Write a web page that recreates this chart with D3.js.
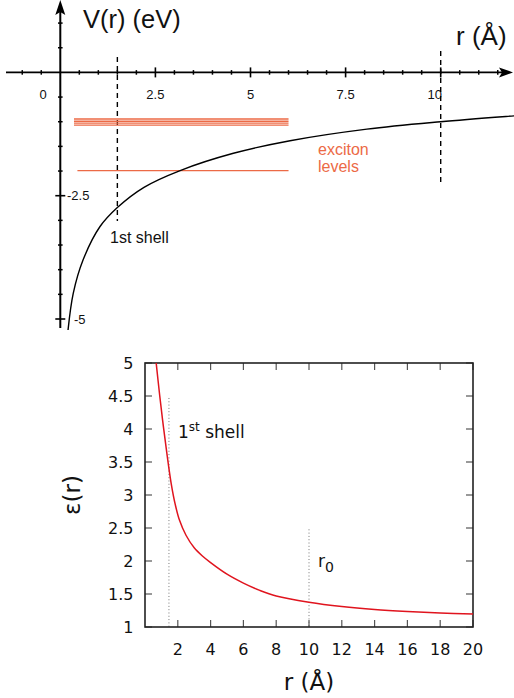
<!DOCTYPE html>
<html><head><meta charset="utf-8">
<script src="https://cdn.jsdelivr.net/npm/d3@7"></script>
<style>body{margin:0;background:#fff}svg{display:block}</style>
</head><body>
<svg id="c" width="514" height="698"></svg>
<script>
// ---------- Top chart data (V(r) in eV vs r in Å) ----------
const potR = [0.2, 0.34, 0.6, 1.04, 1.5, 2.2, 3.15, 4.55, 6.04, 8.06, 10, 11.94, 12.2];
const potV = [-5.25, -4.48, -3.8, -3.13, -2.74, -2.33, -1.99, -1.64, -1.385, -1.15, -1.0, -0.88, -0.865];
const levelV = [-0.945, -0.99, -1.03, -1.07, -1.99];
const levelStart = [0.36, 0.36, 0.36, 0.36, 0.45];
const levelEnd = [6.0, 6.0, 6.0, 6.0, 6.0];
const topMajorX = [2.5, 5, 7.5, 10];
const topMajorXLabels = ["2.5", "5", "7.5", "10"];
const topMajorY = [-2.5, -5];
const topMajorYLabels = ["-2.5", "-5"];
const topShells = [1.5, 10];

// ---------- Bottom chart data (ε(r) vs r in Å) ----------
const epsR = [0.66, 0.9, 1.12, 1.35, 1.6, 1.85, 2.1, 2.5, 3.0, 3.5, 4.0, 5.0, 6.0, 7.0, 8.0, 10, 12, 14, 16, 18, 20];
const epsV = [5.05, 4.5, 4.04, 3.6, 3.17, 2.85, 2.62, 2.39, 2.2, 2.075, 1.975, 1.8, 1.665, 1.555, 1.47, 1.375, 1.31, 1.265, 1.235, 1.213, 1.197];
const botXTicks = [2, 4, 6, 8, 10, 12, 14, 16, 18, 20];
const botYTicks = [1, 1.5, 2, 2.5, 3, 3.5, 4, 4.5, 5];
const botYLabels = ["1", "1.5", "2", "2.5", "3", "3.5", "4", "4.5", "5"];
const botMarks = [{r: 1.46, top: 4.47}, {r: 10, top: 2.48}];

const svg = d3.select("#c");
const orange = "#ec6a46";

// ================= TOP CHART =================
const xT = d3.scaleLinear().domain([0, 10]).range([60.3, 440.7]);
const yT = d3.scaleLinear().domain([0, -5]).range([72.4, 319]);
const gT = svg.append("g");

const defs = svg.append("defs");
defs.append("clipPath").attr("id", "clipT")
  .append("rect").attr("x", 0).attr("y", 0).attr("width", 514).attr("height", 330);

const x0 = xT(0), y0 = yT(0);
gT.append("line").attr("x1", 6).attr("x2", 504).attr("y1", y0).attr("y2", y0)
  .attr("stroke", "#000").attr("stroke-width", 1.6);
gT.append("path").attr("d", `M513,${y0} L499,${y0-5} L502,${y0} L499,${y0+5} Z`).attr("fill", "#000");
gT.append("line").attr("x1", x0).attr("x2", x0).attr("y1", 328).attr("y2", 8)
  .attr("stroke", "#000").attr("stroke-width", 2);
gT.append("path").attr("d", `M${x0},0 L${x0-5},15 L${x0},12 L${x0+5},15 Z`).attr("fill", "#000");

const minorX = d3.range(-1, 11.51, 0.5).filter(v => v !== 0 && topMajorX.indexOf(v) < 0);
gT.selectAll(".mx").data(minorX).join("line")
  .attr("x1", d => xT(d)).attr("x2", d => xT(d)).attr("y1", y0 - 2.3).attr("y2", y0 + 2.3)
  .attr("stroke", "#000").attr("stroke-width", 1.5);
gT.selectAll(".Mx").data(topMajorX).join("line")
  .attr("x1", d => xT(d)).attr("x2", d => xT(d)).attr("y1", y0 - 5).attr("y2", y0 + 5)
  .attr("stroke", "#000").attr("stroke-width", 1.6);
const minorY = d3.range(1, -5.01, -0.5).filter(v => v !== 0 && topMajorY.indexOf(v) < 0);
gT.selectAll(".my").data(minorY).join("line")
  .attr("x1", x0 - 2.3).attr("x2", x0 + 2.3).attr("y1", d => yT(d)).attr("y2", d => yT(d))
  .attr("stroke", "#000").attr("stroke-width", 1.5);
gT.selectAll(".My").data(topMajorY).join("line")
  .attr("x1", x0 - 5).attr("x2", x0 + 5).attr("y1", d => yT(d)).attr("y2", d => yT(d))
  .attr("stroke", "#000").attr("stroke-width", 1.6);

const tf = "'Liberation Sans', Arial, sans-serif";
gT.selectAll(".lx").data(topMajorX).join("text")
  .attr("x", d => xT(d) - (d === 10 ? 6 : 0)).attr("y", 99).attr("text-anchor", "middle")
  .attr("font-family", tf).attr("font-size", 13).attr("fill", "#111")
  .text((d, i) => topMajorXLabels[i]);
gT.append("text").attr("x", 43).attr("y", 99).attr("text-anchor", "middle")
  .attr("font-family", tf).attr("font-size", 13).attr("fill", "#111").text("0");
gT.selectAll(".ly").data(topMajorY).join("text")
  .attr("x", (d, i) => i === 0 ? 67 : 74).attr("y", d => yT(d) + 4.5)
  .attr("font-family", tf).attr("font-size", 13).attr("fill", "#111")
  .text((d, i) => topMajorYLabels[i]);

gT.append("line").attr("x1", xT(topShells[0])).attr("x2", xT(topShells[0]))
  .attr("y1", 57).attr("y2", 221).attr("stroke", "#000").attr("stroke-width", 1.4)
  .attr("stroke-dasharray", "5,4");
gT.append("line").attr("x1", xT(topShells[1])).attr("x2", xT(topShells[1]))
  .attr("y1", 51).attr("y2", 184).attr("stroke", "#000").attr("stroke-width", 1.4)
  .attr("stroke-dasharray", "5,4");

gT.selectAll(".lev").data(levelV).join("line")
  .attr("x1", (d, i) => xT(levelStart[i])).attr("x2", (d, i) => xT(levelEnd[i]))
  .attr("y1", d => yT(d)).attr("y2", d => yT(d))
  .attr("stroke", orange).attr("stroke-width", 1.3);

const potPts = potR.map((r, i) => [r, potV[i]]);
gT.append("path").datum(potPts)
  .attr("clip-path", "url(#clipT)")
  .attr("d", d3.line().x(d => xT(d[0])).y(d => yT(d[1])).curve(d3.curveCatmullRom.alpha(0.5)))
  .attr("fill", "none").attr("stroke", "#000").attr("stroke-width", 1.4);

gT.append("text").attr("x", 83).attr("y", 28).attr("font-family", tf).attr("font-size", 25.5)
  .attr("fill", "#111").text("V(r) (eV)");
gT.append("text").attr("x", 456).attr("y", 45).attr("font-family", tf).attr("font-size", 26)
  .attr("fill", "#111").text("r (Å)");
gT.append("text").attr("x", 318).attr("y", 155).attr("font-family", tf).attr("font-size", 16)
  .attr("fill", orange).text("exciton");
gT.append("text").attr("x", 318).attr("y", 172).attr("font-family", tf).attr("font-size", 16)
  .attr("fill", orange).text("levels");
gT.append("text").attr("x", 110).attr("y", 242.5).attr("font-family", tf).attr("font-size", 16)
  .attr("fill", "#111").text("1st shell");

// ================= BOTTOM CHART =================
const bf = "'DejaVu Sans', Verdana, sans-serif";
const xB = d3.scaleLinear().domain([0, 20]).range([145, 473]);
const yB = d3.scaleLinear().domain([1, 5]).range([627, 363]);
const gB = svg.append("g");
defs.append("clipPath").attr("id", "clipB")
  .append("rect").attr("x", xB(0)).attr("y", yB(5)).attr("width", xB(20) - xB(0)).attr("height", yB(1) - yB(5));

gB.selectAll(".dm").data(botMarks).join("line")
  .attr("x1", d => xB(d.r)).attr("x2", d => xB(d.r))
  .attr("y1", d => yB(d.top)).attr("y2", yB(1))
  .attr("stroke", "#777").attr("stroke-width", 1).attr("stroke-dasharray", "1,2.3");

const tickC = "#555", tl = 7;
gB.selectAll(".bt").data(botXTicks).join("line")
  .attr("x1", d => xB(d)).attr("x2", d => xB(d)).attr("y1", yB(1)).attr("y2", yB(1) - tl)
  .attr("stroke", tickC).attr("stroke-width", 1.2);
gB.selectAll(".tt").data(botXTicks).join("line")
  .attr("x1", d => xB(d)).attr("x2", d => xB(d)).attr("y1", yB(5)).attr("y2", yB(5) + tl)
  .attr("stroke", tickC).attr("stroke-width", 1.2);
gB.selectAll(".lt").data(botYTicks).join("line")
  .attr("x1", xB(0)).attr("x2", xB(0) + tl).attr("y1", d => yB(d)).attr("y2", d => yB(d))
  .attr("stroke", tickC).attr("stroke-width", 1.2);
gB.selectAll(".rt").data(botYTicks).join("line")
  .attr("x1", xB(20)).attr("x2", xB(20) - tl).attr("y1", d => yB(d)).attr("y2", d => yB(d))
  .attr("stroke", tickC).attr("stroke-width", 1.2);

gB.append("rect").attr("x", xB(0)).attr("y", yB(5)).attr("width", xB(20) - xB(0)).attr("height", yB(1) - yB(5))
  .attr("fill", "none").attr("stroke", "#222").attr("stroke-width", 1.6);

gB.selectAll(".bxl").data(botXTicks).join("text")
  .attr("x", d => xB(d)).attr("y", 655).attr("text-anchor", "middle")
  .attr("font-family", bf).attr("font-size", 16).attr("fill", "#111").text(d => d);
gB.selectAll(".byl").data(botYTicks).join("text")
  .attr("x", 133.5).attr("y", d => yB(d) + 6).attr("text-anchor", "end")
  .attr("font-family", bf).attr("font-size", 16).attr("fill", "#111").text((d, i) => botYLabels[i]);

const epsPts = epsR.map((r, i) => [r, epsV[i]]);
gB.append("path").datum(epsPts).attr("clip-path", "url(#clipB)")
  .attr("d", d3.line().x(d => xB(d[0])).y(d => yB(d[1])).curve(d3.curveCatmullRom.alpha(0.5)))
  .attr("fill", "none").attr("stroke", "#e0141e").attr("stroke-width", 1.5);

const t1 = gB.append("text").attr("x", 178).attr("y", 438).attr("font-family", bf)
  .attr("font-size", 17).attr("fill", "#111");
t1.append("tspan").text("1");
t1.append("tspan").attr("dy", -7).attr("font-size", 12).text("st");
t1.append("tspan").attr("dy", 7).text(" shell");
const t2 = gB.append("text").attr("x", 318).attr("y", 567).attr("font-family", bf)
  .attr("font-size", 17).attr("fill", "#111");
t2.append("tspan").text("r");
t2.append("tspan").attr("dy", 5).attr("font-size", 14).text("0");

gB.append("text").attr("x", 309).attr("y", 690).attr("text-anchor", "middle")
  .attr("font-family", bf).attr("font-size", 23).attr("fill", "#111").text("r (Å)");
gB.append("text").attr("transform", "translate(80,495) rotate(-90)").attr("text-anchor", "middle")
  .attr("font-family", bf).attr("font-size", 23).attr("fill", "#111").text("ε(r)");
</script>
</body></html>
